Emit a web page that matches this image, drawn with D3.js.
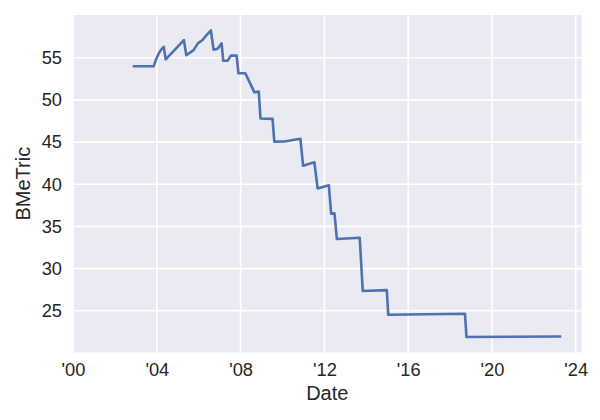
<!DOCTYPE html>
<html><head><meta charset="utf-8">
<script src="https://cdn.jsdelivr.net/npm/d3@7"></script>
<style>body{margin:0;background:#fff}svg{display:block}</style></head>
<body><svg id="c" width="600" height="420"></svg>
<script>
const dates = ["2002-11-30","2003-11-09","2003-12-13","2004-02-04","2004-03-10","2004-05-01","2004-06-05",
"2005-04-17","2005-05-30","2005-10-03","2005-12-17","2006-03-09","2006-05-06","2006-08-01","2006-09-17",
"2006-11-26","2007-02-04","2007-03-04","2007-05-20","2007-07-16","2007-10-24","2007-11-24","2008-03-22",
"2008-08-30","2008-11-13","2008-12-13","2009-07-11","2009-08-11","2010-02-02","2010-11-08","2010-12-26",
"2011-07-11","2011-09-05","2012-03-19","2012-04-28","2012-06-25","2012-08-06","2013-09-08","2013-10-31",
"2014-12-24","2015-01-19","2018-09-17","2018-10-14","2023-04-01"];
const values = [54.0,54.0,54.7,55.5,55.9,56.3,54.8,
57.1,55.3,55.9,56.7,57.1,57.6,58.25,55.95,
56.07,56.7,54.65,54.65,55.25,55.25,53.17,53.17,
50.9,51.0,47.8,47.75,45.05,45.07,45.4,42.2,
42.6,39.5,39.87,36.5,36.55,33.5,33.65,27.35,
27.45,24.52,24.65,21.88,21.95];
const xTickYears = [2000,2004,2008,2012,2016,2020,2024];
const yTicks = [25,30,35,40,45,50,55];
const xLabel = "Date", yLabel = "BMeTric";

const W = 600, H = 420;
const m = {left: 73, right: 18.5, top: 15, bottom: 67.6};
const iw = W - m.left - m.right, ih = H - m.top - m.bottom;
const parse = d3.timeParse("%Y-%m-%d");
const data = dates.map((d, i) => ({date: parse(d), value: values[i]}));

const x = d3.scaleTime().domain([new Date(2000,0,1), new Date(2024,3,10)]).range([0, iw]);
const [vmin, vmax] = d3.extent(values);
const pad = (vmax - vmin) * 0.05;
const y = d3.scaleLinear().domain([vmin - pad, vmax + pad]).range([ih, 0]);

const svg = d3.select("#c");
const g = svg.append("g").attr("transform", `translate(${m.left},${m.top})`);
g.append("rect").attr("width", iw).attr("height", ih).attr("fill", "#EAEAF2");

const xTicks = xTickYears.map(yr => new Date(yr, 0, 1));
g.append("g").selectAll("line.xg").data(xTicks).join("line")
  .attr("x1", d => x(d)).attr("x2", d => x(d)).attr("y1", 0).attr("y2", ih)
  .attr("stroke", "#fff").attr("stroke-width", 1.6);
g.append("g").selectAll("line.yg").data(yTicks).join("line")
  .attr("y1", d => y(d)).attr("y2", d => y(d)).attr("x1", 0).attr("x2", iw)
  .attr("stroke", "#fff").attr("stroke-width", 1.6);

const font = "'Liberation Sans', Arial, sans-serif";
const xAxis = g.append("g").attr("transform", `translate(0,${ih})`)
  .call(d3.axisBottom(x).tickValues(xTicks).tickFormat(d3.timeFormat("'%y")).tickSize(0).tickPadding(10.6));
const yAxis = g.append("g")
  .call(d3.axisLeft(y).tickValues(yTicks).tickSize(0).tickPadding(11));
[xAxis, yAxis].forEach(a => {
  a.select(".domain").remove();
  a.selectAll("text").attr("fill", "#262626").style("font-family", font).style("font-size", "18.3px");
});

g.append("path").datum(data)
  .attr("fill", "none").attr("stroke", "#4C72B0").attr("stroke-width", 2.6)
  .attr("stroke-linejoin", "round").attr("stroke-linecap", "square")
  .attr("d", d3.line().x(d => x(d.date)).y(d => y(d.value)));

svg.append("text").attr("x", m.left + iw / 2).attr("y", 400)
  .attr("text-anchor", "middle").attr("fill", "#262626")
  .style("font-family", font).style("font-size", "20px").text(xLabel);
svg.append("text").attr("transform", `translate(30,${m.top + ih / 2}) rotate(-90)`)
  .attr("text-anchor", "middle").attr("fill", "#262626")
  .style("font-family", font).style("font-size", "20px").text(yLabel);
</script></body></html>
